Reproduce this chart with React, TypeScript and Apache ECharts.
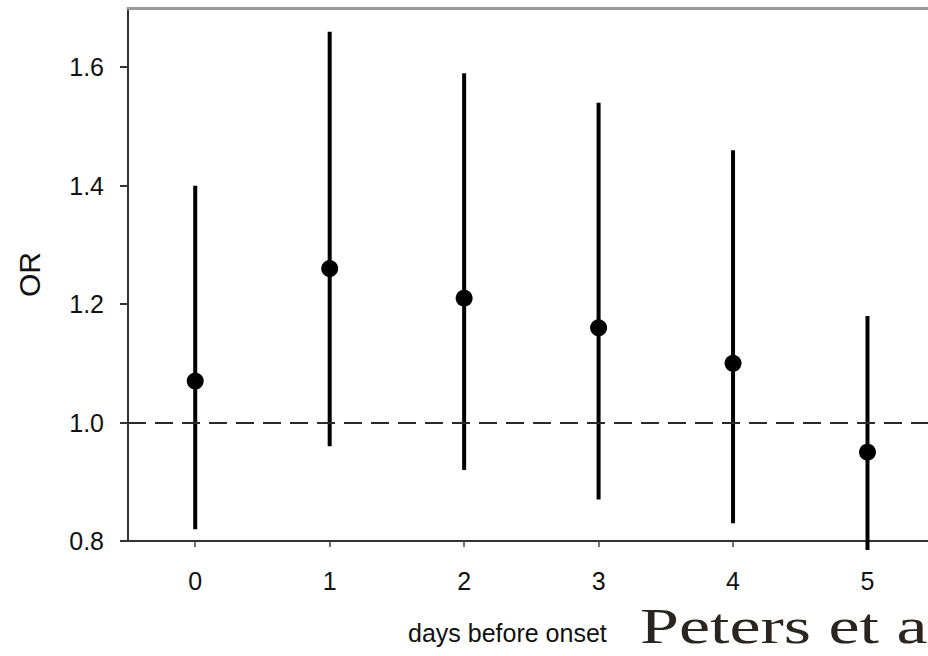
import React, { useEffect, useRef } from "react";
import * as echarts from "echarts";

const days = [0, 1, 2, 3, 4, 5];
const orValues = [1.07, 1.26, 1.21, 1.16, 1.1, 0.95];
const ciLow = [0.82, 0.96, 0.92, 0.87, 0.83, 0.785];
const ciHigh = [1.4, 1.66, 1.59, 1.54, 1.46, 1.18];
const yTicks = [0.8, 1.0, 1.2, 1.4, 1.6];
const refLine = 1.0;
const xName = "days before onset";
const yName = "OR";
const credit = "Peters et a";

const SANS = "'Liberation Sans', Arial, Helvetica, sans-serif";

export default function App() {
  const ref = useRef<HTMLDivElement>(null);
  useEffect(() => {
    if (!ref.current) return;
    const chart = echarts.init(ref.current, undefined, { renderer: "svg" });
    const ciData = days.map((d, i) => [d, ciLow[i], ciHigh[i]]);
    const ptData = days.map((d, i) => [d, orValues[i]]);
    chart.setOption({
      animation: false,
      backgroundColor: "#ffffff",
      grid: { left: 128, top: 8, bottom: 115, right: 0, containLabel: false },
      xAxis: [
        {
          type: "value",
          min: -0.5,
          max: 5.45,
          splitLine: { show: false },
          axisLine: { show: true, onZero: false, lineStyle: { color: "#333", width: 2 } },
          axisTick: { show: true, customValues: days, length: 6, lineStyle: { color: "#444", width: 1.5 } },
          axisLabel: {
            customValues: days,
            margin: 27,
            fontSize: 25,
            color: "#111",
            fontFamily: SANS,
          },
        },
        {
          type: "value",
          position: "top",
          min: -0.5,
          max: 5.45,
          splitLine: { show: false },
          axisLine: { show: true, onZero: false, lineStyle: { color: "#9a9a9a", width: 3 } },
          axisTick: { show: false },
          axisLabel: { show: false },
        },
      ],
      yAxis: {
        type: "value",
        min: 0.8,
        max: 1.7,
        splitLine: { show: false },
        axisLine: { show: true, onZero: false, lineStyle: { color: "#333", width: 2 } },
        axisTick: { show: true, customValues: yTicks, length: 8, lineStyle: { color: "#333", width: 2 } },
        axisLabel: {
          customValues: yTicks,
          formatter: (v: number) => v.toFixed(1),
          margin: 24,
          fontSize: 25,
          color: "#111",
          fontFamily: SANS,
        },
        name: yName,
        nameLocation: "middle",
        nameRotate: 90,
        nameGap: 84,
        nameTextStyle: { fontSize: 30, color: "#111", fontFamily: SANS },
      },
      series: [
        {
          type: "custom",
          clip: false,
          data: ciData,
          encode: { x: 0, y: [1, 2] },
          renderItem: (params: any, api: any) => {
            const x = api.value(0);
            const p1 = api.coord([x, api.value(1)]);
            const p2 = api.coord([x, api.value(2)]);
            return {
              type: "line",
              shape: { x1: p1[0], y1: p1[1], x2: p2[0], y2: p2[1] },
              style: { stroke: "#000", lineWidth: 4 },
            };
          },
          z: 3,
        },
        {
          type: "scatter",
          data: ptData,
          symbol: "circle",
          symbolSize: 17,
          itemStyle: { color: "#000", opacity: 1 },
          z: 4,
          markLine: {
            silent: true,
            symbol: ["none", "none"],
            label: { show: false },
            lineStyle: { type: [18, 9], color: "#2a2a2a", width: 2 },
            data: [{ yAxis: refLine }],
          },
        },
      ],
      graphic: [
        {
          type: "text",
          left: 408,
          top: 620,
          style: { text: xName, fontSize: 25, fill: "#111", fontFamily: SANS },
        },
        {
          type: "text",
          x: 640,
          y: 601,
          scaleX: 1.4,
          style: {
            text: credit,
            fontSize: 50,
            fill: "#2a2520",
            fontFamily: "'Liberation Serif', 'Times New Roman', serif",
            verticalAlign: "top",
            align: "left",
          },
        },
      ],
    });
    return () => chart.dispose();
  }, []);
  return (
    <div
      ref={ref}
      style={{ position: "absolute", left: 0, top: 0, width: 928, height: 656 }}
    />
  );
}
